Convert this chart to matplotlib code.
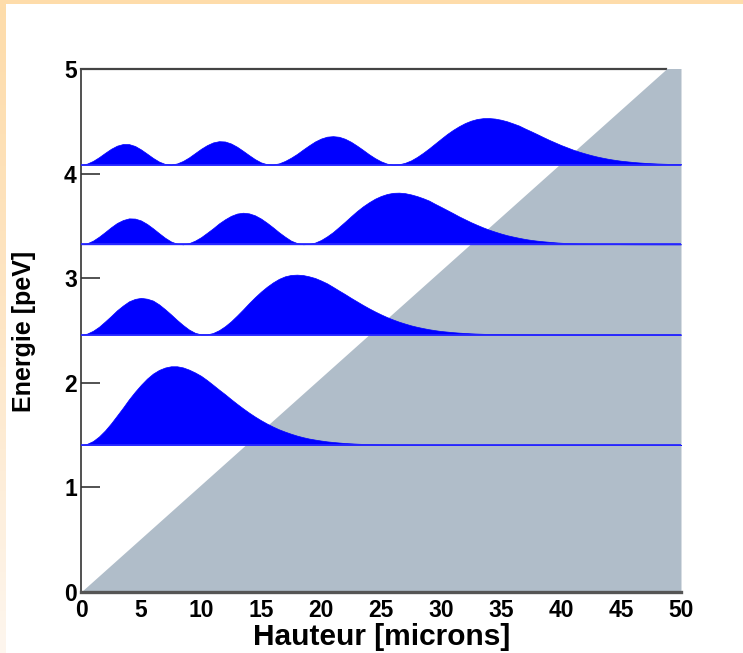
import numpy as np
import matplotlib
matplotlib.use("Agg")
import matplotlib.pyplot as plt
from matplotlib.patches import Rectangle
from matplotlib.colors import LinearSegmentedColormap

# ---- data -------------------------------------------------------------
heights = np.arange(0, 50.5, 0.5)  # microns, sample positions

energies = [1.407, 2.461, 3.324, 4.086]  # peV (quantum levels)
gravity_slope = 0.1025                   # peV per micron (m g z)
potential_z = [0, 50]
potential_E = [0.0, gravity_slope * 50]

density_1 = [0, 0.0093, 0.036, 0.080, 0.137, 0.205, 0.280, 0.356, 0.436, 0.508,
             0.574, 0.633, 0.681, 0.716, 0.739, 0.751, 0.751, 0.740, 0.719, 0.692,
             0.660, 0.619, 0.574, 0.528, 0.484, 0.437, 0.392, 0.349, 0.308, 0.270,
             0.235, 0.203, 0.174, 0.148, 0.126, 0.106, 0.088, 0.073, 0.060, 0.050,
             0.041, 0.033, 0.027, 0.022, 0.017, 0.014, 0.011, 0.0086, 0.0067, 0.0052,
             0.0041, 0.0031, 0.0025, 0.0019, 0.0014, 0.0011, 0.0008, 0.0006, 0.0005, 0.0004,
             0.0003, 0.0002, 0.0002, 0.0001, 0.0001,
             0, 0, 0, 0, 0, 0, 0, 0, 0, 0, 0, 0, 0, 0, 0, 0, 0, 0,
             0, 0, 0, 0, 0, 0, 0, 0, 0, 0, 0, 0, 0, 0, 0, 0, 0, 0]

density_2 = [0, 0.009, 0.036, 0.075, 0.125, 0.177, 0.232, 0.278, 0.318, 0.341,
             0.351, 0.343, 0.325, 0.289, 0.243, 0.193, 0.140, 0.091, 0.048, 0.017,
             0.002, 0.0015, 0.015, 0.042, 0.080, 0.127, 0.182, 0.240, 0.301, 0.358,
             0.411, 0.458, 0.499, 0.533, 0.557, 0.570, 0.573, 0.569, 0.557, 0.541,
             0.517, 0.490, 0.456, 0.421, 0.387, 0.351, 0.317, 0.283, 0.251, 0.221,
             0.193, 0.167, 0.144, 0.123, 0.105, 0.088, 0.074, 0.062, 0.051, 0.042,
             0.034, 0.0285, 0.023, 0.0186, 0.015, 0.0118, 0.0094, 0.0074, 0.0058, 0.0045,
             0.0035, 0.0027, 0.0021, 0.0016, 0.0012, 0.0009, 0.0007, 0.0005, 0.0004, 0.0003,
             0.0002, 0.0002, 0.0001, 0.0001,
             0, 0, 0, 0, 0, 0, 0, 0, 0, 0, 0, 0, 0, 0, 0, 0, 0]

density_3 = [0, 0.0092, 0.035, 0.073, 0.117, 0.163, 0.204, 0.232, 0.248, 0.246,
             0.228, 0.195, 0.153, 0.107, 0.063, 0.027, 0.0055, 0.0003, 0.011, 0.035,
             0.068, 0.110, 0.153, 0.200, 0.239, 0.272, 0.294, 0.302, 0.296, 0.277,
             0.246, 0.206, 0.162, 0.115, 0.073, 0.035, 0.012, 0.0008, 0.0025, 0.0163,
             0.041, 0.076, 0.117, 0.166, 0.216, 0.268, 0.318, 0.363, 0.402, 0.436,
             0.462, 0.481, 0.492, 0.494, 0.489, 0.477, 0.461, 0.441, 0.418, 0.387,
             0.358, 0.328, 0.298, 0.267, 0.239, 0.211, 0.186, 0.162, 0.140, 0.121,
             0.103, 0.087, 0.074, 0.062, 0.051, 0.042, 0.035, 0.029, 0.024, 0.019,
             0.015, 0.012, 0.0097, 0.0077, 0.0061, 0.0048, 0.0037, 0.0029, 0.0023, 0.0018,
             0.0013, 0.0010, 0.0008, 0.0006, 0.0005, 0.0004, 0.0003, 0.0002, 0.0002, 0.0001,
             0.0001]

density_4 = [0, 0.0092, 0.035, 0.071, 0.112, 0.151, 0.181, 0.197, 0.196, 0.178,
             0.145, 0.105, 0.064, 0.029, 0.0062, 0.0002, 0.011, 0.035, 0.069, 0.110,
             0.151, 0.186, 0.212, 0.224, 0.221, 0.202, 0.171, 0.132, 0.091, 0.052,
             0.021, 0.0035, 0.0007, 0.012, 0.035, 0.066, 0.102, 0.144, 0.184, 0.221,
             0.249, 0.267, 0.272, 0.266, 0.247, 0.218, 0.181, 0.141, 0.099, 0.062,
             0.031, 0.009, 0.0003, 0.0032, 0.017, 0.040, 0.073, 0.112, 0.155, 0.201,
             0.247, 0.292, 0.332, 0.367, 0.397, 0.420, 0.436, 0.444, 0.445, 0.440,
             0.429, 0.414, 0.394, 0.373, 0.345, 0.319, 0.292, 0.264, 0.237, 0.212,
             0.187, 0.165, 0.143, 0.124, 0.107, 0.091, 0.077, 0.065, 0.054, 0.045,
             0.037, 0.031, 0.025, 0.0205, 0.0165, 0.0133, 0.0106, 0.0085, 0.0068, 0.0053,
             0.0042]

densities = [density_1, density_2, density_3, density_4]

x_ticks = [0, 5, 10, 15, 20, 25, 30, 35, 40, 45, 50]
y_ticks = [0, 1, 2, 3, 4, 5]
x_label = "Hauteur [microns]"
y_label = "Energie [peV]"

for d in densities:
    assert len(d) == len(heights), len(d)

# ---- figure -----------------------------------------------------------
W, H = 743, 653
fig = plt.figure(figsize=(W / 100, H / 100), dpi=100)
fig.patch.set_facecolor("white")

FONT = "Liberation Sans"

# cream decorative border (top + left gradient)
fig.patches.append(Rectangle((0, 1 - 4 / H), 1, 4 / H, transform=fig.transFigure,
                             facecolor="#fedcaa", edgecolor="none", zorder=0))
band = fig.add_axes([0, 0, 6 / W, 1 - 4 / H])
cmap = LinearSegmentedColormap.from_list("band", ["#fef6ee", "#fde6c6", "#fedcaa"])
band.imshow(np.linspace(0, 1, 200).reshape(-1, 1), aspect="auto", cmap=cmap,
            origin="lower", extent=[0, 1, 0, 1])
band.axis("off")

ax = fig.add_axes([81 / W, (H - 592) / H, 600 / W, 523 / H])
ax.set_facecolor("white")
ax.set_xlim(0, 50)
ax.set_ylim(0, 5)

# potential region (m g z)
ax.fill_between(potential_z, potential_E, 0, color="#b0bdc9", linewidth=0, zorder=3)

# probability densities on their energy levels
for E, dens in zip(energies, densities):
    top = [E + d for d in dens]
    ax.fill_between(heights, E, top, color="#0000ff", linewidth=0.5,
                    edgecolor="#0000ff", zorder=4)
    ax.plot([heights[0], heights[-1]], [E, E], color="#2a2aff", lw=1.3, zorder=4.5)

# spines
ax.spines["right"].set_visible(False)
ax.spines["top"].set_bounds(0, 5 / gravity_slope)
ax.spines["top"].set_color("#444444")
ax.spines["top"].set_linewidth(1.6)
ax.spines["left"].set_color("#333333")
ax.spines["left"].set_linewidth(1.2)
ax.spines["bottom"].set_color("#555555")
ax.spines["bottom"].set_linewidth(2.4)
ax.spines["bottom"].set_zorder(6)

ax.set_xticks(x_ticks)
ax.set_xticklabels([str(v) for v in x_ticks])
ax.set_yticks(y_ticks)
ax.set_yticklabels([str(v) for v in y_ticks])
ax.tick_params(axis="x", length=0, pad=5)
ax.tick_params(axis="y", direction="in", length=13.5, width=1.3, color="#444444", pad=3)
for lab in ax.get_xticklabels() + ax.get_yticklabels():
    lab.set_fontfamily(FONT)
    lab.set_fontweight("bold")
    lab.set_fontsize(16.5)

fig.text(381.5 / W, (H - 645) / H, x_label, ha="center", va="baseline",
         fontsize=21.5, fontweight="bold", family=FONT)
fig.text(24 / W, (H - 331) / H, y_label, ha="center", va="center", rotation=90,
         fontsize=18, fontweight="bold", family=FONT)

fig.savefig("out.png", dpi=100)
